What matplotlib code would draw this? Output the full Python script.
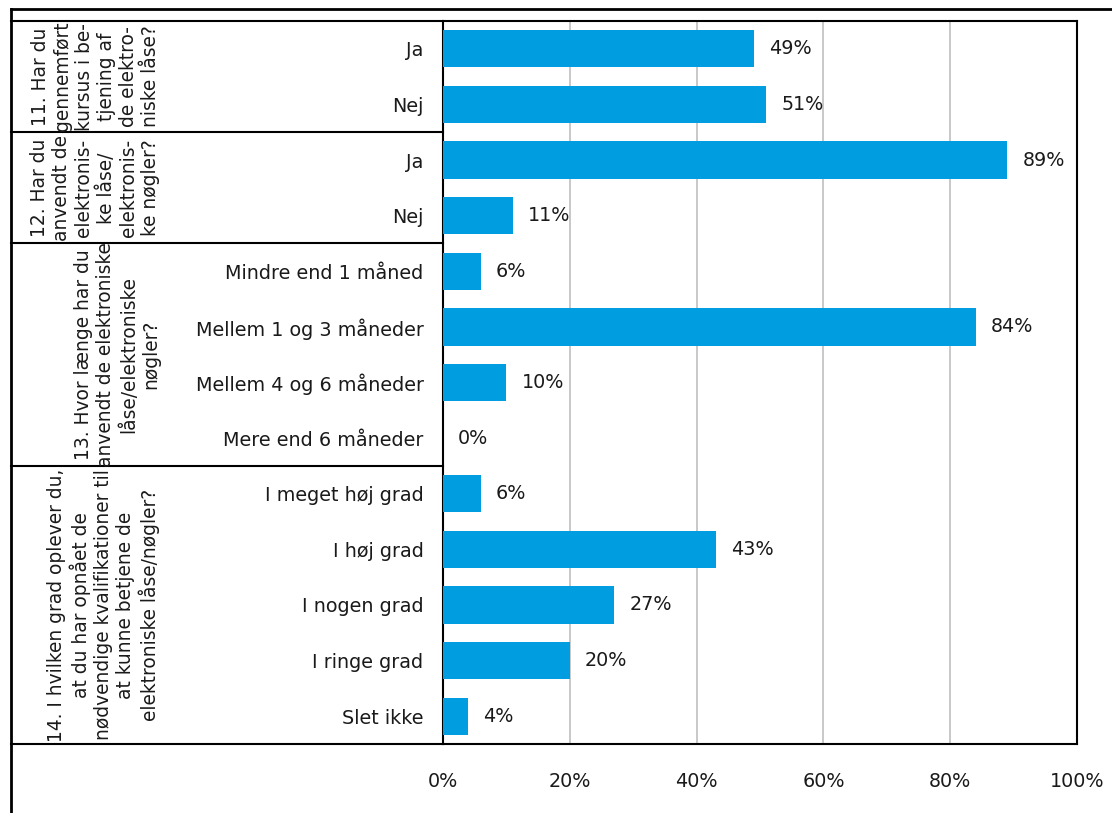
import matplotlib
matplotlib.use("Agg")
import matplotlib.pyplot as plt
import matplotlib.transforms as mtransforms
from matplotlib.lines import Line2D

plt.rcParams['font.family'] = ['DejaVu Sans']

categories = ["Ja", "Nej",
              "Ja", "Nej",
              "Mindre end 1 måned", "Mellem 1 og 3 måneder",
              "Mellem 4 og 6 måneder", "Mere end 6 måneder",
              "I meget høj grad", "I høj grad", "I nogen grad",
              "I ringe grad", "Slet ikke"]
values = [49, 51, 89, 11, 6, 84, 10, 0, 6, 43, 27, 20, 4]

questions = [
    "11. Har du\ngennemført\nkursus i be-\ntjening af\nde elektro-\nniske låse?",
    "12. Har du\nanvendt de\nelektronis-\nke låse/\nelektronis-\nke nøgler?",
    "13. Hvor længe har du\nanvendt de elektroniske\nlåse/elektroniske\nnøgler?",
    "14. I hvilken grad oplever du,\nat du har opnået de\nnødvendige kvalifikationer til\nat kunne betjene de\nelektroniske låse/nøgler?",
]
group_sizes = [2, 2, 4, 5]

W, H = 1112, 813
FS = 13.8
TXT = '#1a1a1a'
fig = plt.figure(figsize=(W / 100, H / 100), dpi=100)
ax = fig.add_axes([443 / W, 1 - 744 / H, (1077 - 443) / W, (744 - 21) / H])

bar_color = '#009EE0'
y = list(range(len(categories)))
ax.barh(y, values, height=0.67, color=bar_color, zorder=3)

for yi, v in zip(y, values):
    ax.annotate(f"{v}%", (v, yi), xytext=(15, 0), textcoords='offset pixels',
                ha='left', va='center', fontsize=FS, color=TXT, zorder=4)

ax.set_xlim(0, 100)
ax.set_ylim(len(categories) - 0.5, -0.5)
ax.set_xticks(range(0, 101, 20))
ax.set_xticklabels([f"{t}%" for t in range(0, 101, 20)], fontsize=FS, color=TXT)
ax.set_yticks(y)
ax.set_yticklabels(categories, fontsize=FS, color=TXT)
ax.tick_params(axis='both', length=0)
ax.tick_params(axis='y', pad=14)
ax.tick_params(axis='x', pad=20)
ax.xaxis.grid(True, color='#BFBFBF', linewidth=1.2, zorder=0)
ax.set_axisbelow(True)
for side in ['left', 'right', 'top', 'bottom']:
    ax.spines[side].set_color('black')
    ax.spines[side].set_linewidth(1.5)

# table lines for the question column
trans = mtransforms.blended_transform_factory(fig.transFigure, ax.transData)
x0 = 11 / W
x1 = 443 / W
edges = [-0.5]
for n in group_sizes:
    edges.append(edges[-1] + n)
for e in edges:
    fig.add_artist(Line2D([x0, x1], [e, e], transform=trans, color='black', lw=1.5))

start = -0.5
for q, n in zip(questions, group_sizes):
    mid = start + n / 2
    fig.text(160 / W, mid, q, transform=trans, rotation=90, ha='right', va='center',
             multialignment='center', fontsize=13.4, linespacing=1.2, color=TXT)
    start += n

# outer frame
fig.add_artist(Line2D([x0, x0], [0, 1 - 9 / H], transform=fig.transFigure, color='black', lw=2))
fig.add_artist(Line2D([x0, 1], [1 - 9 / H, 1 - 9 / H], transform=fig.transFigure, color='black', lw=2))

fig.savefig("out.png", dpi=100)
